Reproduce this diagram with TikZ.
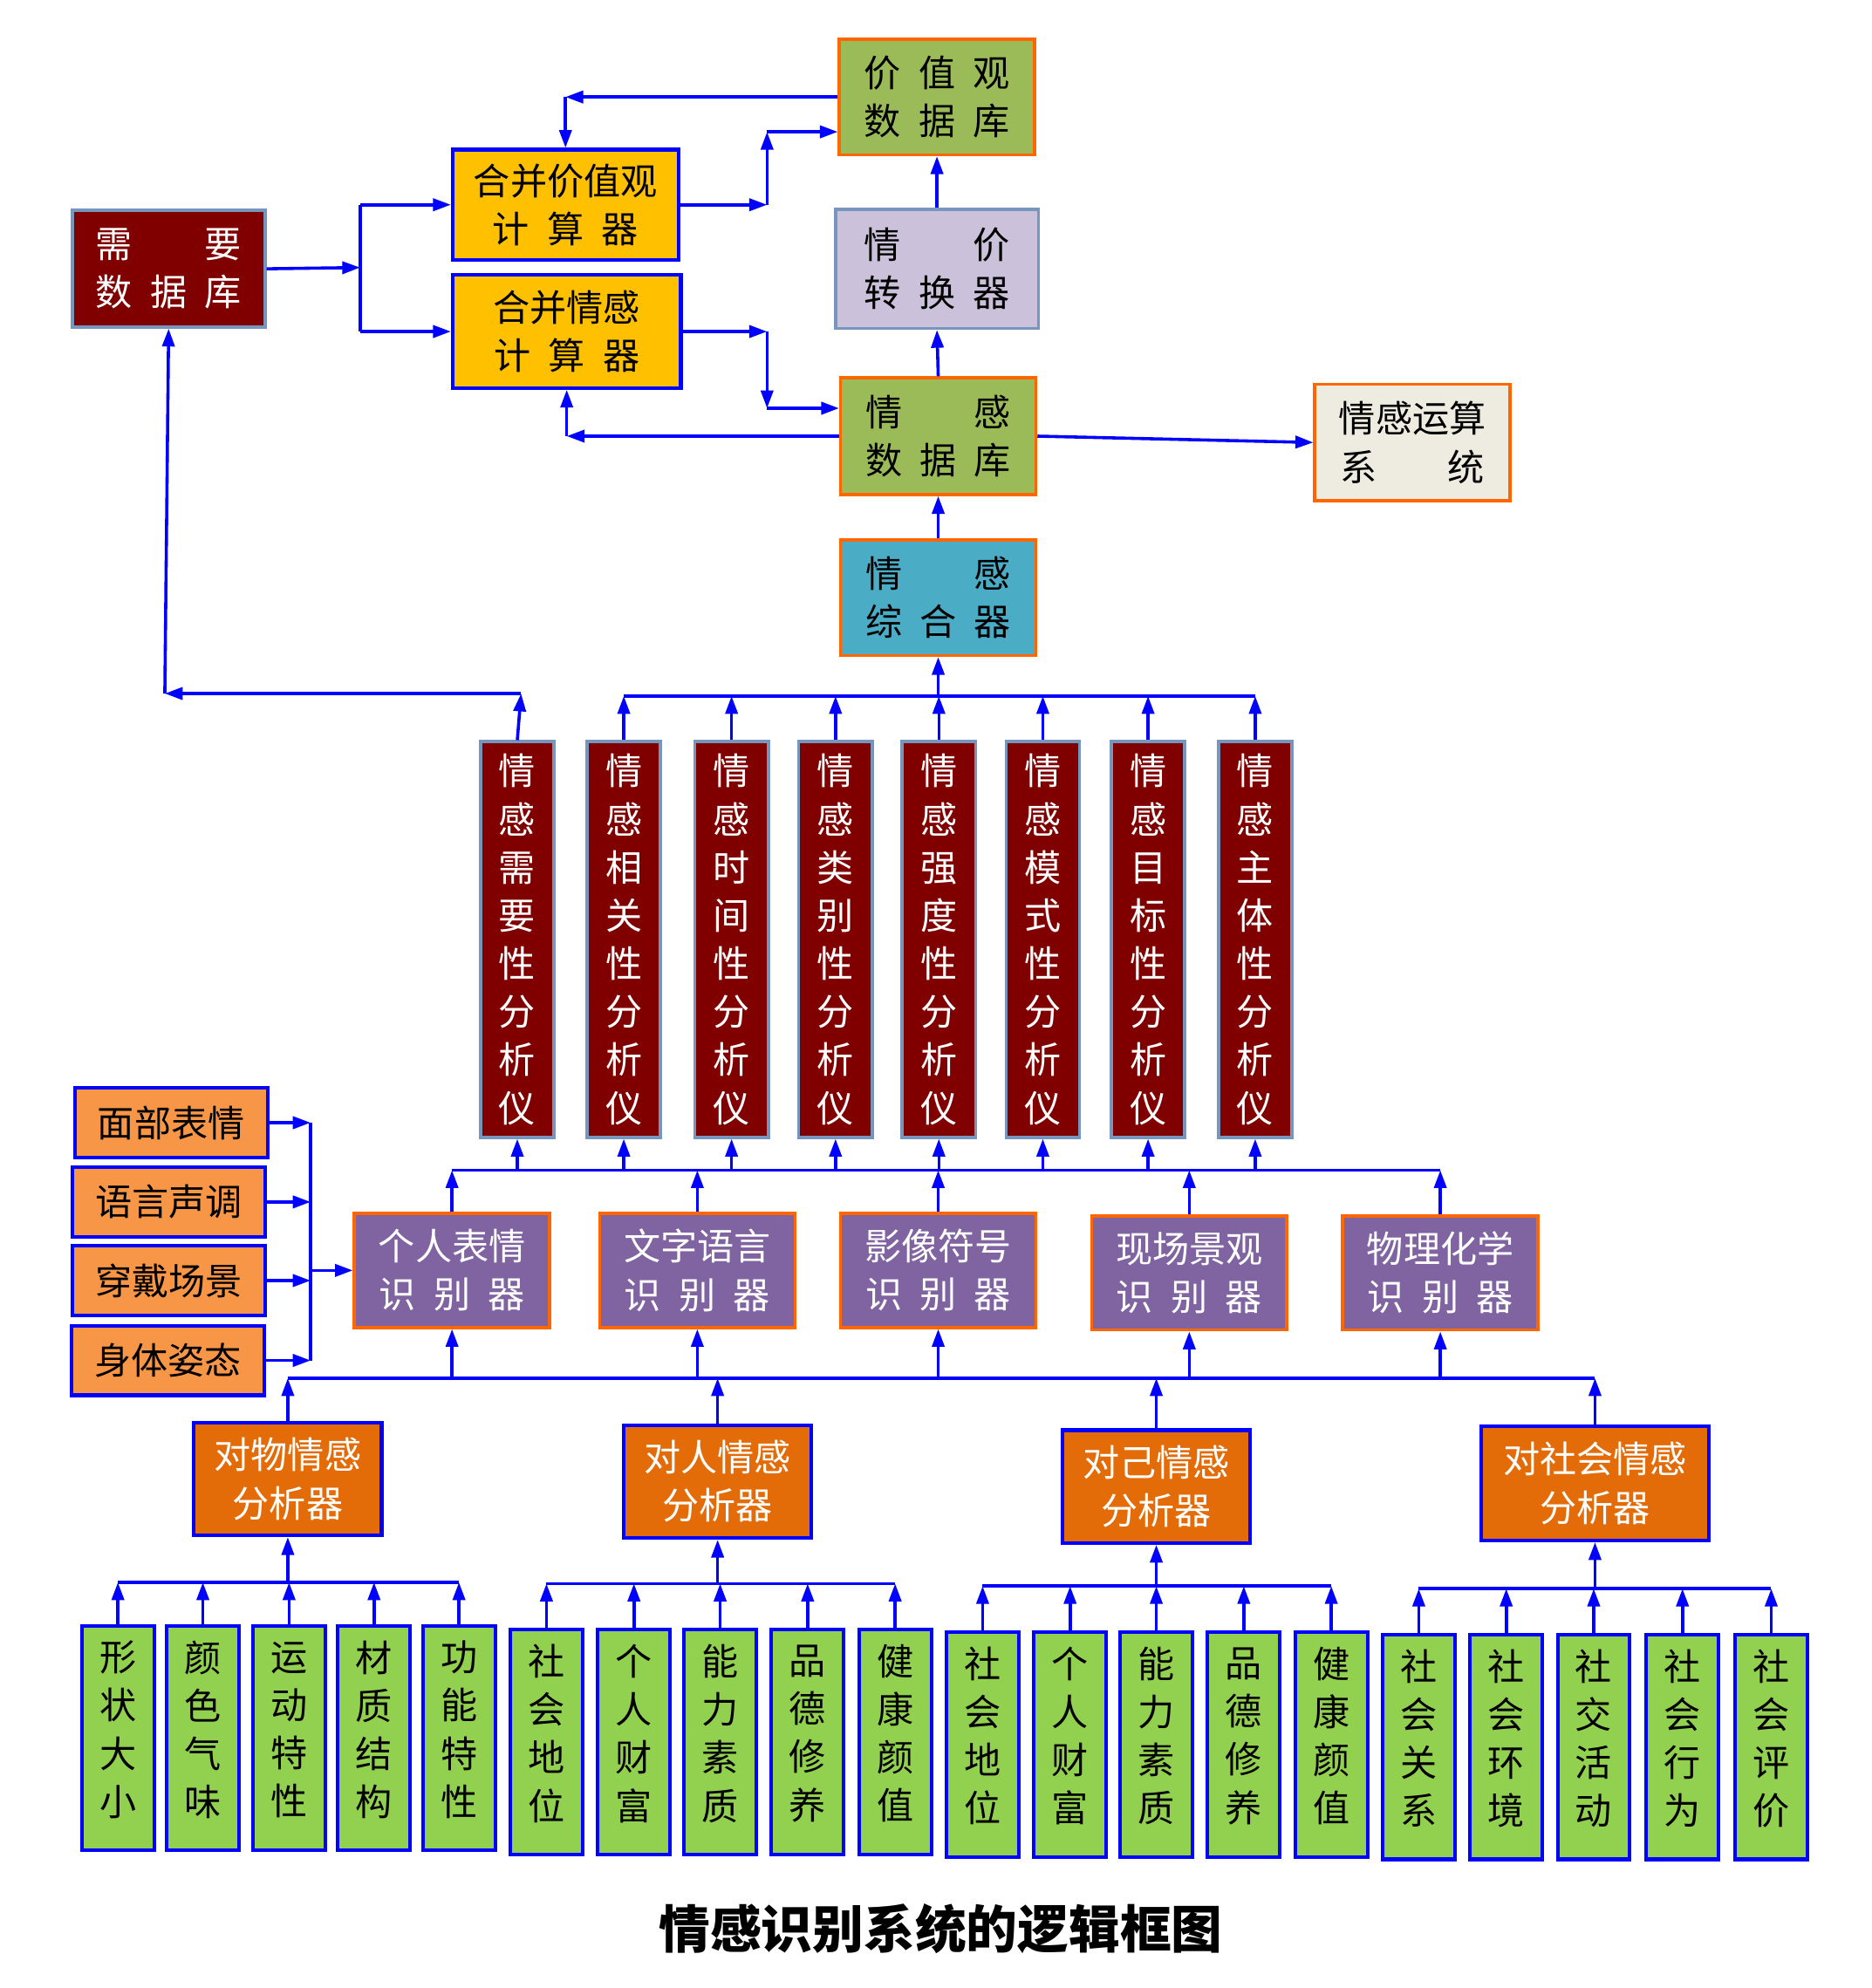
\documentclass[tikz,border=0pt]{standalone}
\usepackage{fontspec}
\newfontfamily\cjk{Noto Sans CJK SC}
\usetikzlibrary{arrows.meta}
\definecolor{dred}{RGB}{128,0,0}
\definecolor{steel}{RGB}{118,150,190}
\definecolor{ggreen}{RGB}{155,187,89}
\definecolor{borange}{RGB}{255,102,0}
\definecolor{gold}{RGB}{255,192,0}
\definecolor{pblue}{RGB}{0,0,255}
\definecolor{lav}{RGB}{204,193,218}
\definecolor{beige}{RGB}{238,236,225}
\definecolor{teal}{RGB}{75,172,198}
\definecolor{purp}{RGB}{128,100,162}
\definecolor{inorange}{RGB}{247,150,70}
\definecolor{anorange}{RGB}{227,108,9}
\definecolor{lgreen}{RGB}{146,208,80}
\newcommand{\spr}[2]{\makebox[#1][s]{#2}}
\begin{document}
\begin{tikzpicture}[x=0.02cm,y=-0.02cm,
  every node/.style={font=\cjk\fontsize{16.5}{21.6}\selectfont, inner sep=0pt, align=center},
  wh/.style 2 args={minimum width=#1*0.02cm, minimum height=#2*0.02cm},
  bxB/.style={draw=pblue, line width=1.6pt},
  bxO/.style={draw=borange, line width=1.4pt},
  bxS/.style={draw=steel, line width=1.4pt},
  item/.style={bxB, fill=lgreen, wh={57}{177}, text depth=9pt},
  arr/.style={-{Triangle[length=8pt,width=5.5pt]}, draw=pblue, line width=1.4pt},
  ln/.style={draw=pblue, line width=1.4pt}]
\useasboundingbox (0,0) rectangle (1476,1568);

% ---------- top section ----------
\node[bxO, fill=ggreen, wh={154}{91}] (jzg) at (739,76.5)
  {\spr{2.3cm}{价\hfill 值\hfill 观}\\\spr{2.3cm}{数\hfill 据\hfill 库}};
\node[bxB, fill=gold, wh={178}{87}] (hbjz) at (446,161.5)
  {合并价值观\\\spr{2.3cm}{计\hfill 算\hfill 器}};
\node[bxS, fill=dred, text=white, wh={152}{92}] (xy) at (133,212)
  {\spr{2.3cm}{需\hfill 要}\\\spr{2.3cm}{数\hfill 据\hfill 库}};
\node[bxB, fill=gold, wh={180}{89}] (hbqg) at (447,261.5)
  {合并情感\\\spr{2.3cm}{计\hfill 算\hfill 器}};
\node[bxS, fill=lav, wh={160}{94}] (qj) at (739,212)
  {\spr{2.3cm}{情\hfill 价}\\\spr{2.3cm}{转\hfill 换\hfill 器}};
\node[bxO, fill=ggreen, wh={154}{92}] (qgdb) at (740,344)
  {\spr{2.3cm}{情\hfill 感}\\\spr{2.3cm}{数\hfill 据\hfill 库}};
\node[bxO, fill=beige, wh={154}{92}] (ys) at (1114,349)
  {情感运算\\\spr{2.28cm}{系\hfill 统}};
\node[bxO, fill=teal, wh={154}{91}] (zh) at (740,471.5)
  {\spr{2.3cm}{情\hfill 感}\\\spr{2.3cm}{综\hfill 合\hfill 器}};

\coordinate (j1) at (284,211);
\coordinate (j2) at (605,161.5);
\coordinate (j3) at (605,104);
\coordinate (j4) at (446,76.5);
\coordinate (j5) at (605,261.5);
\coordinate (j6) at (605,322);
\coordinate (j7) at (447,344);
\draw[arr] (xy.east) -- (j1);
\draw[ln] (j1 |- hbjz.west) -- (j1 |- hbqg.west);
\draw[arr] (j1 |- hbjz.west) -- (hbjz.west);
\draw[arr] (j1 |- hbqg.west) -- (hbqg.west);
\draw[arr] (hbjz.east) -- (j2);
\draw[arr] (j2) -- (j3);
\draw[arr] (j3) -- (j3 -| jzg.west);
\draw[arr] (jzg.west) -- (j4);
\draw[arr] (j4) -- (hbjz.north);
\draw[arr] (hbqg.east) -- (j5);
\draw[arr] (j5) -- (j6);
\draw[arr] (j6) -- (j6 -| qgdb.west);
\draw[arr] (qgdb.west) -- (j7);
\draw[arr] (j7) -- (hbqg.south);
\draw[arr] (qj.north) -- (jzg.south);
\draw[arr] (qgdb.north) -- (qj.south);
\draw[arr] (qgdb.east) -- (ys.west);
\draw[arr] (zh.north) -- (qgdb.south);

% ---------- analysers ----------
\foreach \x/\p/\q [count=\i] in {408/需/要,492/相/关,577/时/间,659/类/别,740.5/强/度,822.5/模/式,905.5/目/标,990/主/体}
  \node[bxS, fill=dred, text=white, wh={58}{312}] (a\i) at (\x,741)
    {情\\感\\\p\\\q\\性\\分\\析\\仪};

\coordinate (tb) at (0,549);
\draw[ln] (a2.north |- tb) -- (a8.north |- tb);
\foreach \i in {2,...,8} \draw[arr] (a\i.north) -- (a\i.north |- tb);
\draw[arr] (zh.south |- tb) -- (zh.south);
\coordinate (k1) at (411,547);
\coordinate (k2) at (130,547);
\draw[arr] (a1.north) -- (k1);
\draw[arr] (k1) -- (k2);
\draw[arr] (k2) -- (xy.south);

% ---------- recognisers ----------
\node[bxO, fill=purp, text=white, wh={154}{90}] (r1) at (356.5,1002)
  {个人表情\\\spr{2.3cm}{识\hfill 别\hfill 器}};
\node[bxO, fill=purp, text=white, wh={154}{90}] (r2) at (550,1002)
  {文字语言\\\spr{2.3cm}{识\hfill 别\hfill 器}};
\node[bxO, fill=purp, text=white, wh={154}{90}] (r3) at (740,1002)
  {影像符号\\\spr{2.3cm}{识\hfill 别\hfill 器}};
\node[bxO, fill=purp, text=white, wh={154}{90}] (r4) at (938,1004)
  {现场景观\\\spr{2.3cm}{识\hfill 别\hfill 器}};
\node[bxO, fill=purp, text=white, wh={154}{90}] (r5) at (1136,1004)
  {物理化学\\\spr{2.3cm}{识\hfill 别\hfill 器}};

\coordinate (mb) at (0,923);
\draw[ln] (r1.north |- mb) -- (r5.north |- mb);
\foreach \i in {1,...,5} \draw[arr] (r\i.north) -- (r\i.north |- mb);
\foreach \i in {1,...,8} \draw[arr] (a\i.south |- mb) -- (a\i.south);

% ---------- inputs ----------
\node[bxB, fill=inorange, wh={152}{55}] (in1) at (135,885.5) {面部表情};
\node[bxB, fill=inorange, wh={152}{55}] (in2) at (133,948) {语言声调};
\node[bxB, fill=inorange, wh={152}{55}] (in3) at (133,1010) {穿戴场景};
\node[bxB, fill=inorange, wh={152}{55}] (in4) at (132.5,1073) {身体姿态};
\coordinate (lv) at (245,0);
\foreach \i in {1,...,4} \draw[arr] (in\i.east) -- (in\i.east -| lv);
\draw[ln] (in1.east -| lv) -- (in4.east -| lv);
\draw[arr] (lv |- r1.west) -- (r1.west);

% ---------- emotion analysers ----------
\node[bxB, fill=anorange, text=white, wh={148}{89}] (l1) at (227,1166.5) {对物情感\\分析器};
\node[bxB, fill=anorange, text=white, wh={148}{89}] (l2) at (566,1168.5) {对人情感\\分析器};
\node[bxB, fill=anorange, text=white, wh={148}{89}] (l3) at (912,1172.5) {对己情感\\分析器};
\node[bxB, fill=anorange, text=white, wh={180}{90}] (l4) at (1258,1170) {对社会情感\\分析器};

\coordinate (lb) at (0,1087);
\draw[ln] (l1.north |- lb) -- (l4.north |- lb);
\foreach \i in {1,...,4} \draw[arr] (l\i.north) -- (l\i.north |- lb);
\foreach \i in {1,...,5} \draw[arr] (r\i.south |- lb) -- (r\i.south);

% ---------- bottom items ----------
\foreach \x/\t [count=\i] in {93/形\\状\\大\\小,160/颜\\色\\气\\味,228/运\\动\\特\\性,295/材\\质\\结\\构,362/功\\能\\特\\性}
  \node[item] (ga\i) at (\x,1371) {\t};
\foreach \x/\t [count=\i] in {431/社\\会\\地\\位,500/个\\人\\财\\富,568/能\\力\\素\\质,637/品\\德\\修\\养,706/健\\康\\颜\\值}
  \node[item] (gb\i) at (\x,1374) {\t};
\foreach \x/\t [count=\i] in {775/社\\会\\地\\位,844/个\\人\\财\\富,912/能\\力\\素\\质,981/品\\德\\修\\养,1050/健\\康\\颜\\值}
  \node[item] (gc\i) at (\x,1376) {\t};
\foreach \x/\t [count=\i] in {1119/社\\会\\关\\系,1188/社\\会\\环\\境,1257/社\\交\\活\\动,1327/社\\会\\行\\为,1397/社\\会\\评\\价}
  \node[item] (gd\i) at (\x,1378) {\t};

\coordinate (ba) at (0,1248);
\coordinate (bb) at (0,1249);
\coordinate (bc) at (0,1251);
\coordinate (bd) at (0,1253);
\draw[ln] (ga1.north |- ba) -- (ga5.north |- ba);
\draw[ln] (gb1.north |- bb) -- (gb5.north |- bb);
\draw[ln] (gc1.north |- bc) -- (gc5.north |- bc);
\draw[ln] (gd1.north |- bd) -- (gd5.north |- bd);
\foreach \i in {1,...,5} {
  \draw[arr] (ga\i.north) -- (ga\i.north |- ba);
  \draw[arr] (gb\i.north) -- (gb\i.north |- bb);
  \draw[arr] (gc\i.north) -- (gc\i.north |- bc);
  \draw[arr] (gd\i.north) -- (gd\i.north |- bd);
}
\draw[arr] (l1.south |- ba) -- (l1.south);
\draw[arr] (l2.south |- bb) -- (l2.south);
\draw[arr] (l3.south |- bc) -- (l3.south);
\draw[arr] (l4.south |- bd) -- (l4.south);

% ---------- title ----------
\node[font=\cjk\bfseries\fontsize{23}{27}\selectfont] (title) at (742,1521) {情感识别系统的逻辑框图};
\end{tikzpicture}
\end{document}
